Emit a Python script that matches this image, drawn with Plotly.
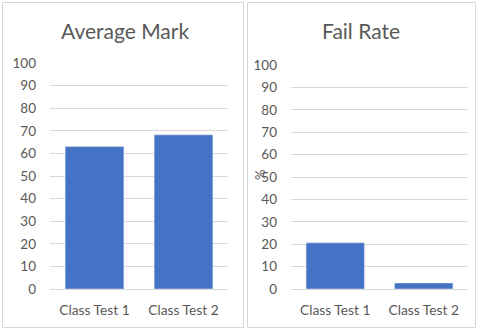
import plotly.graph_objects as go

categories = ["Class Test 1", "Class Test 2"]
average_mark = [63, 68.2]
fail_rate = [20.6, 2.7]
y_ticks = [0, 10, 20, 30, 40, 50, 60, 70, 80, 90, 100]
titles = ["Average Mark", "Fail Rate"]

W, H = 477, 330
BAR = "#4472C4"
GRID = "#d9d9d9"
TXT = "#595959"
FONT = "Lato"

def px(x):
    return x / W

def py(y):
    return 1 - y / H

fig = go.Figure()
fig.add_trace(go.Bar(x=categories, y=average_mark, marker_color=BAR, xaxis="x", yaxis="y", hoverinfo="skip"))
fig.add_trace(go.Bar(x=categories, y=fail_rate, marker_color=BAR, xaxis="x2", yaxis="y2", hoverinfo="skip"))

axis_y = dict(range=[0, 100], tickvals=y_ticks, showgrid=True, gridcolor=GRID, gridwidth=1,
              zeroline=False, showline=False, ticks="", ticklabelstandoff=13, automargin=False,
              tickfont=dict(family=FONT, size=13.5, color=TXT), fixedrange=True)
axis_x = dict(showgrid=False, showline=True, linecolor=GRID, linewidth=1, ticks="", automargin=False,
              ticklabelstandoff=8, tickfont=dict(family=FONT, size=13.8, color=TXT), fixedrange=True)

fig.update_layout(
    width=W, height=H, margin=dict(l=0, r=0, t=0, b=0, autoexpand=False),
    paper_bgcolor="white", plot_bgcolor="white", showlegend=False, bargap=0.34,
    xaxis=dict(domain=[px(50), px(228)], anchor="y", **axis_x),
    yaxis=dict(domain=[py(289), py(63)], anchor="x", **axis_y),
    xaxis2=dict(domain=[px(291), px(468)], anchor="y2", **axis_x),
    yaxis2=dict(domain=[py(289), py(65)], anchor="x2", **axis_y),
    shapes=[
        dict(type="rect", xref="paper", yref="paper", x0=px(2.5), x1=px(243.5), y0=py(327.5), y1=py(2.5),
             line=dict(color=GRID, width=1), layer="below"),
        dict(type="rect", xref="paper", yref="paper", x0=px(247.5), x1=px(475.5), y0=py(327.5), y1=py(2.5),
             line=dict(color=GRID, width=1), layer="below"),
    ],
    annotations=[
        dict(text=titles[0], xref="paper", yref="paper", x=px(125), y=py(30), showarrow=False,
             xanchor="center", yanchor="middle", font=dict(family=FONT, size=21, color=TXT)),
        dict(text=titles[1], xref="paper", yref="paper", x=px(361), y=py(30), showarrow=False,
             xanchor="center", yanchor="middle", font=dict(family=FONT, size=21, color=TXT)),
        dict(text="%", xref="paper", yref="paper", x=px(260), y=py(175), showarrow=False, textangle=-90,
             xanchor="center", yanchor="middle", font=dict(family=FONT, size=13, color=TXT)),
    ],
)

fig.write_html("out.html")
